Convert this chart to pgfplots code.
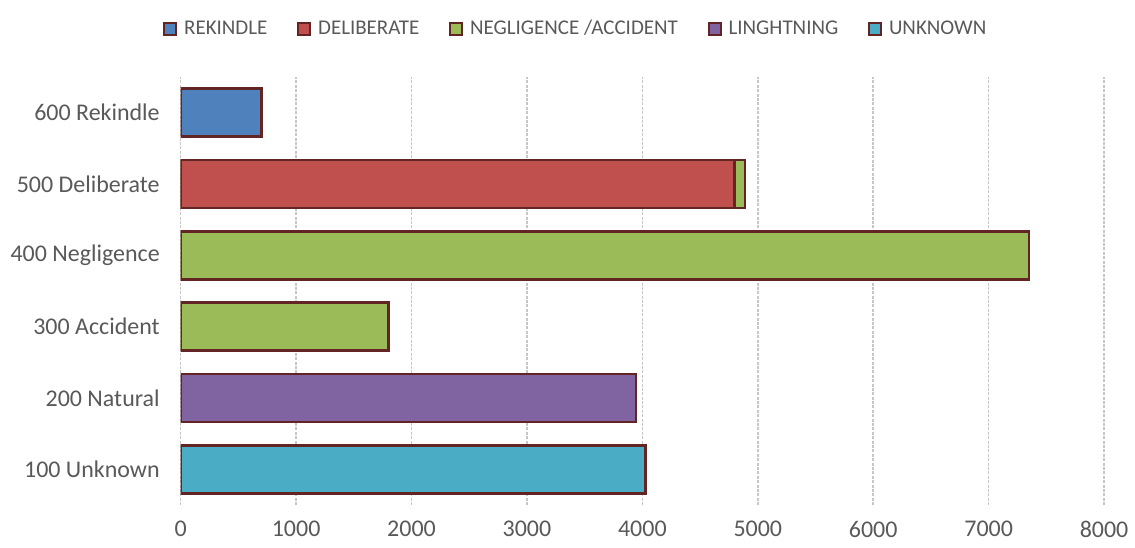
\documentclass[border=0pt]{standalone}
\usepackage{pgfplots}
\pgfplotsset{compat=1.18}
\usepackage{fontspec}
\setmainfont{Carlito}
\definecolor{txt}{RGB}{89,89,89}
\definecolor{edge}{RGB}{99,37,35}
\definecolor{cRek}{RGB}{79,129,189}
\definecolor{cDel}{RGB}{192,80,77}
\definecolor{cNeg}{RGB}{155,187,89}
\definecolor{cLig}{RGB}{128,100,162}
\definecolor{cUnk}{RGB}{75,172,198}
\begin{document}
\begin{tikzpicture}
\begin{axis}[name=ax, scale only axis, width=462.5pt, height=214.5pt,
  xmin=0, xmax=8000, ymin=-0.5, ymax=5.5,
  xtick={0,1000,...,8000}, ytick={0,...,5},
  yticklabels={100 Unknown,200 Natural,300 Accident,400 Negligence,500 Deliberate,600 Rekindle},
  axis line style={draw=none}, major tick length=0pt,
  xmajorgrids, major grid style={black!22, dash pattern=on 1.5pt off 0.7pt, line width=0.8pt},
  tick label style={font=\fontsize{12}{14}\selectfont, text=txt},
  /pgf/number format/assume math mode=true,
  /pgf/number format/1000 sep={},
  yticklabel style={xshift=-7pt},
  xticklabel style={yshift=-4.5pt},
  legend columns=-1,
  legend image code/.code={\draw[#1, line width=0.9pt] (0pt,-3pt) rectangle (6pt,3pt);},
  legend style={at={(0.429,1.112)}, anchor=center, draw=none, fill=none,
    font=\fontsize{10.5}{12.5}\selectfont, text=txt,
    /tikz/every even column/.append style={column sep=13pt},
    /tikz/every odd column/.append style={column sep=1.5pt}},
]
\addplot[xbar, bar shift=0pt, bar width=24pt, fill=cRek, draw=edge, line width=1.3pt, forget plot] coordinates {(700,5)};
\addplot[xbar, bar shift=0pt, bar width=24pt, fill=cNeg, draw=edge, line width=1.3pt, forget plot] coordinates {(1800,2) (7350,3) (4890,4)};
\addplot[xbar, bar shift=0pt, bar width=24pt, fill=cDel, draw=edge, line width=1.3pt, forget plot] coordinates {(4800,4)};
\addplot[xbar, bar shift=0pt, bar width=24pt, fill=cLig, draw=edge, line width=1.3pt, forget plot] coordinates {(3945,1)};
\addplot[xbar, bar shift=0pt, bar width=24pt, fill=cUnk, draw=edge, line width=1.3pt, forget plot] coordinates {(4025,0)};
\addlegendimage{fill=cRek, draw=edge}
\addlegendentry{REKINDLE}
\addlegendimage{fill=cDel, draw=edge}
\addlegendentry{DELIBERATE}
\addlegendimage{fill=cNeg, draw=edge}
\addlegendentry{NEGLIGENCE /ACCIDENT}
\addlegendimage{fill=cLig, draw=edge}
\addlegendentry{LINGHTNING}
\addlegendimage{fill=cUnk, draw=edge}
\addlegendentry{UNKNOWN}
\end{axis}
\path (ax.south west) ++(-90.5pt,-21pt) rectangle ++(567.5pt,274pt);
\end{tikzpicture}
\end{document}
